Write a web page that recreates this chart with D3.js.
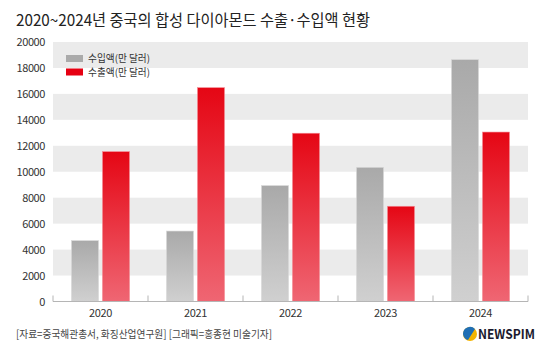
<!DOCTYPE html>
<html><head><meta charset="utf-8">
<script src="https://cdn.jsdelivr.net/npm/d3@7"></script>
<style>
html,body{margin:0;padding:0;background:#fff;}
text{font-family:"Noto Sans CJK KR","Noto Sans",sans-serif;}
</style></head>
<body>
<svg id="c" width="552" height="352"></svg>
<script>
const years = ["2020","2021","2022","2023","2024"];
const importVals = [4690, 5430, 8930, 10340, 18640];
const exportVals = [11550, 16480, 12970, 7340, 13060];
const seriesNames = ["수입액(만 달러)", "수출액(만 달러)"];
const yTicks = [0,2000,4000,6000,8000,10000,12000,14000,16000,18000,20000];
const title = "2020~2024년 중국의 합성 다이아몬드 수출·수입액 현황";
const source = "[자료=중국해관총서, 화징산업연구원] [그래픽=홍종현 미술기자]";

const svg = d3.select("#c");
const m = {l:53, r:528, t:42, b:301.5};
const x = d3.scaleBand().domain(years).range([m.l, m.r]);
const y = d3.scaleLinear().domain([0,20000]).range([m.b, m.t]);

const defs = svg.append("defs");
const gg = defs.append("linearGradient").attr("id","gGray").attr("x1",0).attr("y1",0).attr("x2",0).attr("y2",1);
gg.append("stop").attr("offset","0%").attr("stop-color","#a9a9a9");
gg.append("stop").attr("offset","100%").attr("stop-color","#d0d0d0");
const gr = defs.append("linearGradient").attr("id","gRed").attr("x1",0).attr("y1",0).attr("x2",0).attr("y2",1);
gr.append("stop").attr("offset","0%").attr("stop-color","#e50614");
gr.append("stop").attr("offset","100%").attr("stop-color","#ef6673");

// title
svg.append("text").attr("x",16).attr("y",26).attr("font-size",16).attr("fill","#222")
  .attr("textLength",354).attr("lengthAdjust","spacingAndGlyphs").text(title);

// bands
for (let i=0;i<yTicks.length-1;i+=2){
  const top = yTicks[yTicks.length-1-i], bot = yTicks[yTicks.length-2-i];
  svg.append("rect").attr("x",m.l).attr("width",m.r-m.l)
    .attr("y",y(top)).attr("height",y(bot)-y(top)).attr("fill","#ebebeb");
}

// y labels
svg.append("g").selectAll("text").data(yTicks).join("text")
  .attr("x",45).attr("y",d=>y(d)+4).attr("text-anchor","end")
  .attr("font-size",11).attr("letter-spacing",-0.4).attr("fill","#333").text(d=>d);

// bars
const bw = 27, gap = 4;
const gBars = svg.append("g");
years.forEach((yr,i)=>{
  const cx = x(yr)+x.bandwidth()/2;
  gBars.append("rect").attr("x",cx-gap/2-bw).attr("width",bw)
    .attr("y",y(importVals[i])).attr("height",y(0)-y(importVals[i]))
    .attr("fill","url(#gGray)").attr("stroke","#d8d8d8").attr("stroke-width",0.6);
  gBars.append("rect").attr("x",cx+gap/2).attr("width",bw)
    .attr("y",y(exportVals[i])).attr("height",y(0)-y(exportVals[i]))
    .attr("fill","url(#gRed)").attr("stroke","#f58a93").attr("stroke-width",0.6);
});

// x axis
svg.append("line").attr("x1",m.l).attr("x2",m.r).attr("y1",m.b).attr("y2",m.b)
  .attr("stroke","#b5b5b5").attr("stroke-width",1);
const bounds = years.map(d=>x(d)).concat([m.r]);
svg.append("g").selectAll("line").data(bounds).join("line")
  .attr("x1",d=>d).attr("x2",d=>d).attr("y1",m.b).attr("y2",m.b-6)
  .attr("stroke","#b5b5b5").attr("stroke-width",1);
svg.append("g").selectAll("text").data(years).join("text")
  .attr("x",d=>x(d)+x.bandwidth()/2).attr("y",317).attr("text-anchor","middle")
  .attr("font-size",11).attr("letter-spacing",-0.3).attr("fill","#333").text(d=>d);

// legend
const lg = svg.append("g");
["#aaaaaa","#e60012"].forEach((c,i)=>{
  lg.append("rect").attr("x",66).attr("y",55+i*13.5).attr("width",17).attr("height",7).attr("fill",c);
  lg.append("text").attr("x",88).attr("y",62+i*13.5).attr("font-size",10)
    .attr("fill","#333").attr("textLength",62).attr("lengthAdjust","spacingAndGlyphs").text(seriesNames[i]);
});

// source
svg.append("text").attr("x",16).attr("y",338).attr("font-size",10.5).attr("fill","#444")
  .attr("textLength",256).attr("lengthAdjust","spacingAndGlyphs").text(source);

// logo
const logo = svg.append("g").attr("transform","translate(470,334)");
logo.append("circle").attr("r",7).attr("fill","#f4b400");
logo.append("path").attr("d","M-7,0 A7,7 0 0,1 5,-5 L-2,6 A7,7 0 0,1 -7,0 Z").attr("fill","#1f6fb5");
svg.append("text").attr("x",478).attr("y",339).attr("font-family","Liberation Sans, Arial").attr("font-weight","bold")
  .attr("font-size",13).attr("fill","#1a1a2e").attr("textLength",57).attr("lengthAdjust","spacingAndGlyphs").text("NEWSPIM");
</script>
</body></html>
